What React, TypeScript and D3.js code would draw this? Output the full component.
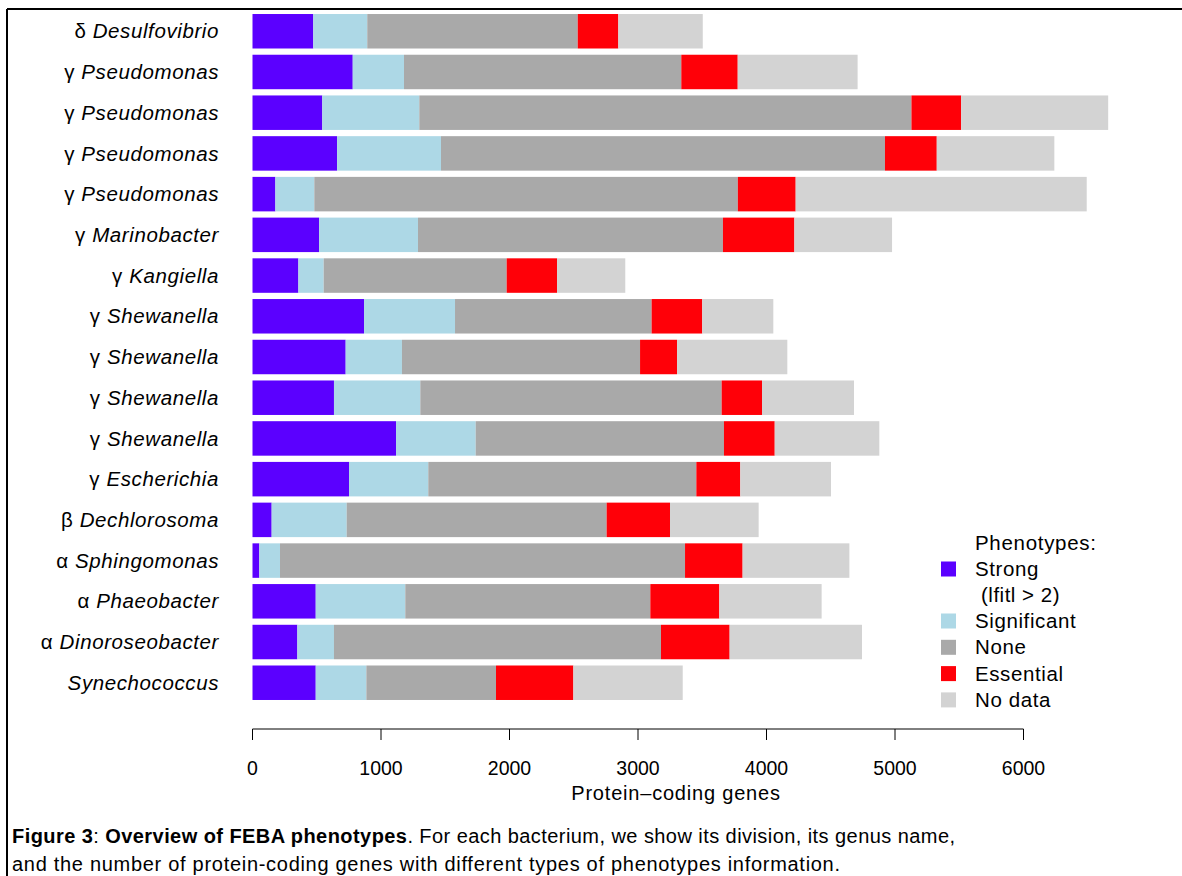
import React from "react";
import * as d3 from "d3";

const divisions = ["δ", "γ", "γ", "γ", "γ", "γ", "γ", "γ", "γ", "γ", "γ", "γ", "β", "α", "α", "α", ""];
const genera = [
  "Desulfovibrio", "Pseudomonas", "Pseudomonas", "Pseudomonas", "Pseudomonas",
  "Marinobacter", "Kangiella", "Shewanella", "Shewanella", "Shewanella", "Shewanella",
  "Escherichia", "Dechlorosoma", "Sphingomonas", "Phaeobacter", "Dinoroseobacter", "Synechococcus",
];
const strong = [473, 780, 543, 658, 178, 518, 357, 868, 725, 634, 1117, 751, 149, 53, 492, 349, 492];
const significant = [420, 399, 755, 809, 303, 770, 197, 708, 438, 672, 620, 617, 584, 161, 697, 285, 394];
const none = [1638, 2158, 3830, 3455, 3296, 2373, 1424, 1530, 1853, 2345, 1932, 2086, 2023, 3152, 1907, 2545, 1009];
const essential = [316, 439, 387, 403, 450, 556, 392, 394, 288, 314, 395, 342, 493, 448, 537, 534, 602];
const noData = [657, 933, 1144, 915, 2265, 760, 531, 553, 858, 716, 814, 706, 690, 831, 796, 1030, 851];

const seriesKeys = ["strong", "significant", "none", "essential", "noData"];
const seriesColors = ["#5b00ff", "#add8e6", "#a9a9a9", "#ff0008", "#d3d3d3"];
const legendLabels = ["Strong", "Significant", "None", "Essential", "No data"];
const xTicks = [0, 1000, 2000, 3000, 4000, 5000, 6000];

const FONT = "'Liberation Sans', Arial, Helvetica, sans-serif";

export default function App() {
  const W = 1182;
  const H = 876;
  const rows = genera.map((g, i) => ({
    id: String(i),
    strong: strong[i],
    significant: significant[i],
    none: none[i],
    essential: essential[i],
    noData: noData[i],
  }));
  const stacked = d3.stack<any>().keys(seriesKeys)(rows);

  const x = d3.scaleLinear().domain([0, 6000]).range([252.5, 1023.5]);
  const y = d3
    .scaleBand<string>()
    .domain(rows.map((r) => r.id))
    .range([10.9, 703.1])
    .paddingInner(0.153)
    .paddingOuter(0.0765);

  const axisY = 729;

  return (
    <div style={{ position: "absolute", left: 0, top: 0, width: W, height: H, background: "#fff" }}>
      <svg width={W} height={H} style={{ display: "block" }} fontFamily={FONT}>
        <rect x={0} y={0} width={W} height={H} fill="#fff" />
        {/* frame */}
        <line x1={7} y1={9} x2={W} y2={9} stroke="#000" strokeWidth={2} />
        <line x1={7} y1={9} x2={7} y2={H} stroke="#000" strokeWidth={2} />

        {/* bars */}
        {stacked.map((s, si) => (
          <g key={s.key}>
            {s.map((d: any, i: number) => (
              <rect
                key={i}
                x={x(d[0])}
                y={y(String(i))}
                width={x(d[1]) - x(d[0])}
                height={y.bandwidth()}
                fill={seriesColors[si]}
              />
            ))}
          </g>
        ))}

        {/* category labels */}
        {genera.map((g, i) => (
          <text
            key={i}
            x={219}
            y={(y(String(i)) as number) + y.bandwidth() / 2}
            dy="0.35em"
            textAnchor="end"
            fontSize={20.5}
            letterSpacing={0.6}
            fill="#000"
          >
            {divisions[i] ? <tspan>{divisions[i] + " "}</tspan> : null}
            <tspan fontStyle="italic">{g}</tspan>
          </text>
        ))}

        {/* x axis */}
        <line x1={x(0)} x2={x(6000)} y1={axisY} y2={axisY} stroke="#000" strokeWidth={1} />
        {xTicks.map((t) => (
          <g key={t}>
            <line x1={x(t)} x2={x(t)} y1={axisY} y2={axisY + 11} stroke="#000" strokeWidth={1} />
            <text x={x(t)} y={768} dy="0.35em" textAnchor="middle" fontSize={19.5} fill="#000">
              {t}
            </text>
          </g>
        ))}
        <text x={676} y={793} dy="0.35em" textAnchor="middle" fontSize={20} letterSpacing={0.8} fill="#000">
          Protein–coding genes
        </text>

        {/* legend */}
        <text x={975} y={543} dy="0.35em" fontSize={20.5} letterSpacing={0.7} fill="#000">Phenotypes:</text>
        {legendLabels.map((lab, i) => {
          const cy = i === 0 ? 569 : 621 + (i - 1) * 26.3;
          return (
            <g key={lab}>
              <rect x={941} y={cy - 7.5} width={15} height={15} fill={seriesColors[i]} />
              <text x={975} y={cy} dy="0.35em" fontSize={20.5} letterSpacing={0.6} fill="#000">{lab}</text>
            </g>
          );
        })}
        <text x={981} y={595} dy="0.35em" fontSize={20.5} letterSpacing={0.5} fill="#000">(lfitl &gt; 2)</text>

        {/* caption */}
        <text x={12} y={836} dy="0.35em" fontSize={20} textLength={943} lengthAdjust="spacing" fill="#000">
          <tspan fontWeight="bold">Figure 3</tspan>
          <tspan>: </tspan>
          <tspan fontWeight="bold">Overview of FEBA phenotypes</tspan>
          <tspan>. For each bacterium, we show its division, its genus name,</tspan>
        </text>
        <text x={12} y={864} dy="0.35em" fontSize={20} textLength={828} lengthAdjust="spacing" fill="#000">
          and the number of protein-coding genes with different types of phenotypes information.
        </text>
      </svg>
    </div>
  );
}
